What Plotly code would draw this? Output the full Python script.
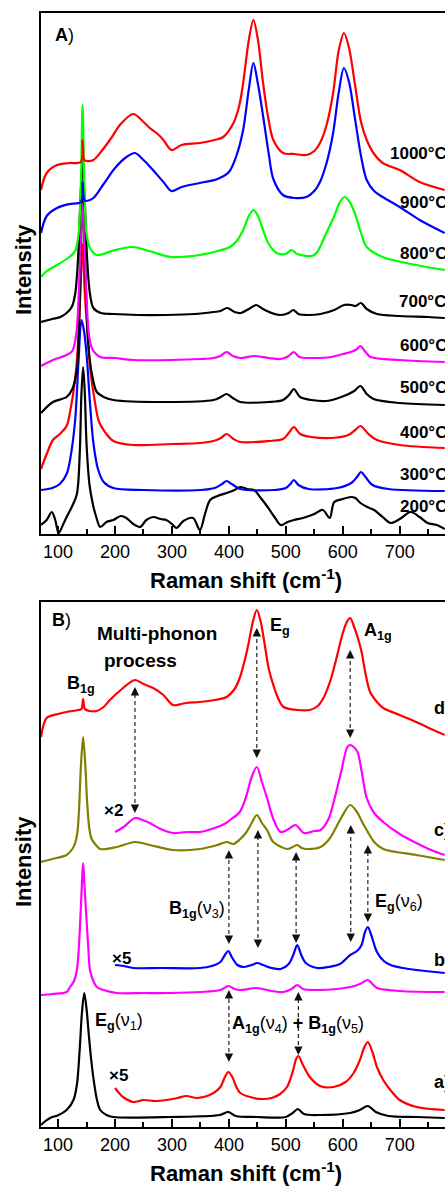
import plotly.graph_objects as go

# ---------------- Panel A data (Raman shift cm-1, stacked intensity a.u.) ----------------
A1000_X = [70, 80, 98, 120, 140, 143, 146, 150, 162, 175, 191, 210, 232, 250, 261, 275, 285, 299, 317, 349, 375, 390, 408, 418, 425, 435, 443, 451, 460, 470, 478, 495, 515, 536, 550, 560, 572, 583, 593, 602, 611, 621, 632, 642, 655, 670, 700, 735, 779]
A1000_Y = [344, 361, 369, 371, 372, 394, 374, 373, 374, 382, 394, 410, 420, 412, 406, 400, 394, 384, 389, 391, 394, 397, 411, 428, 451, 494, 514, 494, 451, 413, 394, 381, 380, 379, 383, 391, 410, 441, 484, 501, 486, 451, 412, 394, 380, 371, 364, 352, 344]

A900_X = [70, 80, 98, 120, 140, 143, 146, 150, 162, 180, 200, 220, 235, 250, 265, 285, 299, 317, 349, 380, 400, 413, 425, 435, 443, 451, 460, 470, 478, 495, 515, 536, 550, 560, 572, 583, 593, 602, 611, 621, 632, 642, 655, 670, 700, 735, 779]
A900_Y = [301, 318, 326, 330, 332, 352, 334, 333, 336, 350, 366, 377, 381, 374, 365, 352, 343, 347, 351, 355, 362, 378, 404, 445, 471, 450, 418, 380, 355, 339, 336, 337, 343, 352, 372, 401, 442, 466, 452, 417, 378, 354, 343, 337, 327, 314, 301]

A800_X = [70, 80, 98, 120, 130, 136, 140, 143, 146, 150, 156, 168, 200, 232, 260, 299, 349, 380, 402, 415, 425, 435, 443, 451, 460, 470, 484, 500, 510, 520, 550, 571, 585, 595, 603, 611, 621, 632, 642, 670, 729, 779]
A800_Y = [257, 263, 269, 277, 283, 300, 350, 429, 350, 300, 286, 279, 284, 287, 283, 277, 279, 283, 287, 294, 304, 318, 324, 318, 304, 290, 281, 280, 284, 280, 279, 301, 318, 332, 337, 333, 321, 301, 287, 277, 269, 264]

A700_X = [70, 90, 104, 115, 124, 130, 135, 139, 143, 147, 151, 156, 162, 175, 197, 240, 290, 340, 373, 385, 397, 410, 421, 435, 448, 460, 475, 491, 505, 513, 522, 540, 561, 585, 602, 615, 622, 632, 642, 660, 700, 750, 779]
A700_Y = [212, 215, 217, 221, 227, 240, 275, 330, 372, 330, 275, 240, 226, 221, 220, 219, 219, 220, 222, 223, 226, 222, 221, 225, 229, 225, 221, 219, 221, 224, 220, 219, 220, 224, 229, 229, 228, 231, 225, 220, 218, 217, 216]

A600_X = [70, 91, 115, 125, 132, 137, 140, 143, 146, 149, 154, 160, 174, 200, 232, 300, 350, 373, 385, 396, 407, 420, 444, 470, 491, 505, 514, 524, 550, 580, 600, 614, 625, 631, 640, 649, 700, 779]
A600_Y = [168, 174, 179, 183, 200, 250, 300, 330, 300, 250, 200, 185, 177, 176, 174, 174, 175, 176, 178, 182, 178, 176, 178, 176, 175, 178, 182, 177, 176, 177, 180, 182, 185, 188, 182, 177, 174, 172]

A500_X = [70, 91, 115, 125, 133, 138, 143, 148, 153, 160, 168, 180, 197, 290, 373, 386, 396, 407, 420, 470, 495, 507, 514, 525, 545, 571, 602, 620, 631, 642, 654, 700, 779]
A500_Y = [121, 132, 137, 145, 165, 230, 335, 260, 190, 158, 142, 137, 134, 132, 134, 137, 140, 136, 132, 132, 134, 140, 145, 137, 134, 133, 138, 143, 148, 140, 135, 131, 129]

A400_X = [70, 80, 91, 103, 115, 121, 130, 135, 139, 143, 147, 152, 156, 165, 172, 185, 197, 232, 300, 350, 373, 386, 396, 408, 420, 470, 495, 505, 514, 525, 545, 580, 610, 622, 631, 645, 660, 700, 779]
A400_Y = [65, 80, 94, 100, 108, 122, 155, 190, 240, 290, 240, 200, 167, 131, 112, 100, 93, 89, 90, 91, 93, 96, 100, 95, 92, 93, 95, 101, 107, 100, 97, 96, 99, 104, 108, 100, 94, 89, 86]

A300_X = [70, 90, 103, 115, 121, 130, 136, 141, 145, 150, 156, 162, 170, 180, 197, 250, 350, 375, 388, 396, 405, 420, 480, 500, 508, 514, 522, 540, 590, 615, 625, 632, 640, 652, 680, 779]
A300_Y = [44, 46, 50, 60, 74, 114, 174, 214, 205, 180, 131, 91, 65, 52, 46, 44, 44, 46, 50, 53, 50, 45, 44, 46, 50, 54, 49, 45, 46, 51, 57, 62, 57, 49, 45, 43]

A200_X = [70, 80, 89, 95, 101, 110, 115, 124, 133, 138, 141, 144, 147, 150, 155, 161, 167, 174, 185, 197, 210, 220, 232, 244, 255, 267, 280, 290, 300, 308, 320, 337, 349, 358, 367, 380, 396, 410, 420, 432, 444, 456, 468, 480, 491, 503, 514, 530, 550, 565, 577, 585, 600, 614, 622, 631, 643, 655, 670, 684, 700, 719, 735, 749, 765, 779]
A200_Y = [9, 14, 22, 14, 1, 11, 17, 27, 40, 80, 140, 167, 140, 90, 50, 30, 17, 7, 12, 14, 18, 16, 10, 7, 14, 17, 15, 14, 10, 6, 13, 16, 4, 20, 34, 38, 41, 44, 47, 45, 44, 36, 27, 17, 9, 12, 14, 16, 20, 24, 16, 32, 35, 37, 36, 31, 27, 24, 17, 11, 15, 22, 17, 11, 9, 5]

A_LABELS = ["1000°C", "900°C", "800°C", "700°C", "600°C", "500°C", "400°C", "300°C", "200°C"]

# ---------------- Panel B data ----------------
BD_X = [70, 80, 100, 115, 135, 141, 144, 147, 155, 168, 180, 191, 210, 235, 250, 267, 285, 302, 325, 349, 375, 396, 410, 419, 427, 434, 442, 449, 456, 463, 470, 478, 487, 496, 520, 542, 556, 566, 578, 589, 600, 608, 613, 620, 627, 633, 640, 648, 660, 671, 700, 729, 755, 779]
BD_Y = [390, 409, 413, 415, 417, 418, 428, 418, 416, 416, 420, 427, 437, 447, 443, 439, 432, 422, 424, 425, 427, 430, 438, 449, 465, 482, 505, 517, 505, 482, 458, 442, 428, 420, 417, 417, 421, 429, 446, 469, 494, 506, 509, 500, 488, 475, 453, 435, 425, 419, 412, 405, 398, 392]

BC_X = [70, 90, 115, 125, 130, 134, 137, 140, 144, 148, 151, 155, 159, 165, 174, 203, 235, 261, 302, 349, 380, 396, 408, 420, 431, 440, 449, 458, 467, 478, 502, 512, 520, 528, 537, 561, 575, 584, 598, 613, 625, 634, 642, 655, 671, 729, 779]
BC_Y = [265, 268, 272, 278, 284, 295, 320, 360, 390, 360, 325, 298, 288, 283, 278, 280, 285, 282, 277, 278, 282, 285, 283, 288, 295, 304, 312, 304, 297, 285, 278, 280, 282, 279, 278, 280, 287, 295, 310, 322, 315, 305, 297, 285, 278, 272, 267]

BC2_X = [200, 215, 235, 248, 261, 280, 302, 325, 349, 375, 392, 402, 419, 430, 440, 449, 458, 467, 478, 491, 505, 517, 532, 550, 561, 575, 584, 597, 608, 613, 625, 633, 642, 655, 671, 700, 729, 755, 779]
BC2_Y = [295, 300, 309, 307, 304, 298, 294, 295, 295, 299, 303, 307, 315, 330, 350, 360, 345, 329, 308, 295, 298, 302, 294, 296, 297, 308, 325, 355, 380, 382, 376, 356, 329, 314, 305, 293, 284, 277, 272]

BB_X = [70, 90, 115, 121, 128, 133, 136, 139, 142, 144, 146, 150, 153, 156, 162, 168, 180, 203, 250, 296, 350, 385, 399, 410, 420, 449, 475, 496, 510, 520, 530, 555, 590, 613, 630, 644, 652, 660, 700, 779]
BB_Y = [132, 133, 135, 140, 146, 157, 175, 207, 245, 264, 245, 207, 180, 157, 146, 140, 137, 134, 134, 134, 135, 137, 141, 138, 137, 139, 136, 135, 138, 142, 138, 137, 138, 140, 143, 147, 143, 139, 136, 135]

BB5_X = [200, 215, 232, 280, 349, 370, 385, 393, 399, 405, 415, 427, 440, 450, 460, 475, 491, 505, 513, 520, 527, 535, 555, 575, 595, 613, 625, 633, 639, 644, 650, 660, 672, 684, 705, 730, 779]
BB5_Y = [162, 161, 159, 159, 159, 161, 165, 172, 176, 170, 162, 160, 162, 164, 162, 159, 158, 163, 172, 182, 172, 164, 159, 160, 163, 172, 176, 182, 195, 200, 192, 175, 166, 162, 159, 157, 154]

BA_X = [70, 78, 86, 101, 115, 127, 133, 138, 142, 146, 150, 154, 158, 163, 168, 174, 185, 197, 296, 384, 399, 412, 450, 500, 512, 521, 532, 560, 613, 630, 644, 658, 680, 730, 779]
BA_Y = [2, 6, 9, 12, 17, 27, 42, 78, 115, 134, 118, 92, 68, 45, 28, 17, 12, 10, 10, 12, 15, 11, 10, 10, 14, 18, 13, 12, 14, 17, 21, 15, 11, 10, 9]

BA5_X = [200, 207, 214, 232, 250, 270, 290, 310, 325, 345, 373, 385, 393, 399, 406, 413, 420, 444, 460, 475, 490, 502, 512, 518, 522, 530, 542, 560, 584, 605, 619, 630, 638, 644, 652, 660, 671, 685, 700, 730, 779]
BA5_Y = [39, 34, 30, 25, 27, 26, 27, 29, 31, 29, 34, 40, 50, 55, 50, 40, 34, 29, 28, 29, 33, 40, 55, 68, 71, 62, 50, 41, 40, 45, 54, 67, 80, 85, 75, 60, 47, 36, 27, 20, 17]

# dashed double arrows in panel B: x position, upper tip, lower tip
ARROW_X = [235, 449, 613, 400, 451, 518, 614, 644, 400, 522]
ARROW_TOP = [440, 499, 477, 277, 297, 275, 302, 282, 137, 135]
ARROW_BOTTOM = [314, 369, 389, 183, 179, 184, 185, 205, 65, 72]

X_TICKS = [100, 200, 300, 400, 500, 600, 700]

# ---------------- figure ----------------
FONT = "Liberation Sans, Arial, sans-serif"
W, H = 445, 1186
ML, MR, MT, MB = 41, 0, 13, 59
PW = W - ML - MR
PH = H - MT - MB


def paper(xpx, ypx):
    return (xpx - ML) / PW, (H - MB - ypx) / PH


fig = go.Figure()


def add(x, y, color, panel):
    xa, ya = ("x", "y") if panel == "A" else ("x2", "y2")
    fig.add_trace(go.Scatter(x=x, y=y, mode="lines", xaxis=xa, yaxis=ya,
                             line=dict(color=color, width=2.2, shape="spline", smoothing=0.9),
                             showlegend=False, hoverinfo="skip"))


RED, BLUE, GREEN, MAG, BLK, OLIVE = "#FF0000", "#0000FF", "#00FF00", "#FF00FF", "#000000", "#808000"

add(A200_X, A200_Y, BLK, "A")
add(A300_X, A300_Y, BLUE, "A")
add(A400_X, A400_Y, RED, "A")
add(A500_X, A500_Y, BLK, "A")
add(A600_X, A600_Y, MAG, "A")
add(A700_X, A700_Y, BLK, "A")
add(A800_X, A800_Y, GREEN, "A")
add(A900_X, A900_Y, BLUE, "A")
add(A1000_X, A1000_Y, RED, "A")

add(BA_X, BA_Y, BLK, "B")
add(BA5_X, BA5_Y, RED, "B")
add(BB_X, BB_Y, MAG, "B")
add(BB5_X, BB5_Y, BLUE, "B")
add(BC_X, BC_Y, OLIVE, "B")
add(BC2_X, BC2_Y, MAG, "B")
add(BD_X, BD_Y, RED, "B")

xaxis_common = dict(range=[70, 779.5], showline=True, linewidth=2.2, linecolor="black", mirror=True,
                    ticks="inside", ticklen=8, tickwidth=2, tickcolor="black",
                    tickvals=X_TICKS, ticktext=[str(v) for v in X_TICKS],
                    minor=dict(ticks="inside", ticklen=5, tickwidth=2, tickcolor="black", dtick=50, tick0=0),
                    showgrid=False, zeroline=False,
                    tickfont=dict(family=FONT, size=18, color="black"))
yaxis_common = dict(showline=True, linewidth=2.2, linecolor="black", mirror=False,
                    ticks="", showticklabels=False, showgrid=False, zeroline=False)

domA = [(H - MB - 534) / PH, 1.0]
domB = [0.0, (H - MB - 602) / PH]

annotations = []


def label(text, xpx, ypx, size=18, xanchor="left", angle=0):
    xp, yp = paper(xpx, ypx)
    annotations.append(dict(text=text, x=xp, y=yp, xref="paper", yref="paper", xanchor=xanchor,
                            yanchor="middle", showarrow=False, textangle=angle,
                            font=dict(family=FONT, size=size, color="black")))


# panel A texts
label("<b>A</b>)", 53, 35, 18)
a_label_pos = [(388, 153), (398, 203), (398, 253), (397, 302), (398, 346), (398, 388), (398, 433), (398, 475), (398, 506)]
for t, (lx, ly) in zip(A_LABELS, a_label_pos):
    label("<b>%s</b>" % t, lx, ly, 17)
label("<b>Raman shift (cm<sup>-1</sup>)</b>", 246, 579, 22, xanchor="center")
label("<b>Intensity</b>", 23, 270, 22, xanchor="center", angle=-90)

# panel B texts
label("<b>B</b>)", 50, 620, 18)
label("<b>Multi-phonon</b>", 95, 634, 19)
label("<b>process</b>", 102, 660, 19)
label("<b>B<sub>1g</sub></b>", 65, 684, 18)
label("<b>E<sub>g</sub></b>", 268, 626, 18)
label("<b>A<sub>1g</sub></b>", 362, 631, 18)
label("<b>d)</b>", 432, 708, 18)
label("<b>c)</b>", 432, 830, 18)
label("<b>b)</b>", 432, 960, 18)
label("<b>a)</b>", 432, 1082, 18)
label("<b>×2</b>", 102, 810, 17)
label("<b>×5</b>", 110, 958, 17)
label("<b>×5</b>", 107, 1075, 17)
label("<b>B<sub>1g</sub></b>(ν<sub>3</sub>)", 167, 909, 18)
label("<b>E<sub>g</sub></b>(ν<sub>6</sub>)", 373, 902, 18)
label("<b>E<sub>g</sub></b>(ν<sub>1</sub>)", 93, 1021, 18)
label("<b>A<sub>1g</sub></b>(ν<sub>4</sub>) <b>+</b> <b>B<sub>1g</sub></b>(ν<sub>5</sub>)", 230, 1024, 18)
label("<b>Raman shift (cm<sup>-1</sup>)</b>", 246, 1172, 22, xanchor="center")
label("<b>Intensity</b>", 23, 862, 22, xanchor="center", angle=-90)

shapes = []
for ax_, top, bot in zip(ARROW_X, ARROW_TOP, ARROW_BOTTOM):
    shapes.append(dict(type="line", xref="x2", yref="y2", x0=ax_, x1=ax_, y0=bot + 3, y1=top - 3,
                       line=dict(color="#222222", width=1.2, dash="4px,3px")))
    annotations.append(dict(x=ax_, y=top, xref="x2", yref="y2", ax=0, ay=7, text="", showarrow=True,
                            arrowhead=2, arrowsize=1.4, arrowwidth=1.2, arrowcolor="#111111", standoff=0))
    annotations.append(dict(x=ax_, y=bot, xref="x2", yref="y2", ax=0, ay=-7, text="", showarrow=True,
                            arrowhead=2, arrowsize=1.4, arrowwidth=1.2, arrowcolor="#111111", standoff=0))

fig.update_layout(
    width=W, height=H, margin=dict(l=ML, r=MR, t=MT, b=MB, pad=0),
    paper_bgcolor="white", plot_bgcolor="white",
    xaxis=dict(xaxis_common, anchor="y"),
    yaxis=dict(yaxis_common, domain=domA, range=[0, 521], anchor="x"),
    xaxis2=dict(xaxis_common, anchor="y2"),
    yaxis2=dict(yaxis_common, domain=domB, range=[0, 525], anchor="x2"),
    annotations=annotations, shapes=shapes, showlegend=False,
)

fig.write_html("out.html", config={"displayModeBar": False})
